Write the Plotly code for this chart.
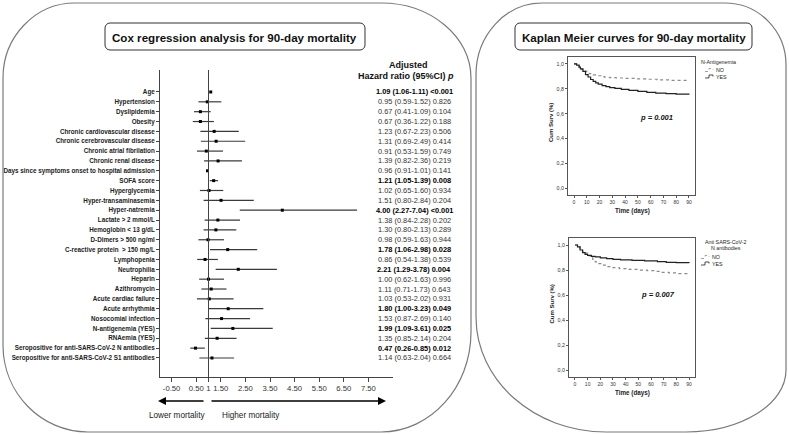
import plotly.graph_objects as go

W, H = 789, 434

# ------------------------------------------------------------------ data
variables = [
    "Age", "Hypertension", "Dyslipidemia", "Obesity",
    "Chronic cardiovascular disease", "Chronic cerebrovascular disease",
    "Chronic atrial fibrilation", "Chronic renal disease",
    "Days since symptoms onset to hospital admission", "SOFA score",
    "Hyperglycemia", "Hyper-transaminasemia", "Hyper-natremia",
    "Lactate > 2 mmol/L", "Hemoglobin < 13 g/dL", "D-Dimers > 500 ng/ml",
    "C-reactive protein  > 150 mg/L", "Lymphopenia", "Neutrophilia",
    "Heparin", "Azithromycin", "Acute cardiac failure", "Acute arrhythmia",
    "Nosocomial infection", "N-antigenemia (YES)", "RNAemia (YES)",
    "Seropositive for anti-SARS-CoV-2 N antibodies",
    "Seropositive for anti-SARS-CoV-2 S1 antibodies",
]
hazard_ratio = [1.09, 0.95, 0.67, 0.67, 1.23, 1.31, 0.91, 1.39, 0.96, 1.21,
                1.02, 1.51, 4.00, 1.38, 1.30, 0.98, 1.78, 0.86, 2.21, 1.00,
                1.11, 1.03, 1.80, 1.53, 1.99, 1.35, 0.47, 1.14]
ci_low = [1.06, 0.59, 0.41, 0.36, 0.67, 0.69, 0.53, 0.82, 0.91, 1.05,
          0.65, 0.80, 2.27, 0.84, 0.80, 0.59, 1.06, 0.54, 1.29, 0.62,
          0.71, 0.53, 1.00, 0.87, 1.09, 0.85, 0.26, 0.63]
ci_high = [1.11, 1.52, 1.09, 1.22, 2.23, 2.49, 1.59, 2.36, 1.01, 1.39,
           1.60, 2.84, 7.04, 2.28, 2.13, 1.63, 2.98, 1.38, 3.78, 1.63,
           1.73, 2.02, 3.23, 2.69, 3.61, 2.14, 0.85, 2.04]
p_values = ["<0.001", "0.826", "0.104", "0.188", "0.506", "0.414", "0.749",
            "0.219", "0.141", "0.008", "0.934", "0.204", "<0.001", "0.202",
            "0.289", "0.944", "0.028", "0.539", "0.004", "0.996", "0.643",
            "0.931", "0.049", "0.140", "0.025", "0.204", "0.012", "0.664"]
significant = [True, False, False, False, False, False, False, False, False,
               True, False, False, True, False, False, False, True, False,
               True, False, False, False, True, False, True, False, True,
               False]
forest_tickvals = [-0.5, 0.5, 1, 1.5, 2.5, 3.5, 4.5, 5.5, 6.5, 7.5]
forest_ticktext = ["-0.50", "0.50", "1", "1.50", "2.50", "3.50", "4.50",
                   "5.50", "6.50", "7.50"]

# Kaplan-Meier: N-antigenemia
km1_no_t = [0, 2, 4, 6, 8, 10, 12, 15, 18, 21, 24, 28, 33, 40, 48, 56, 65, 75, 90]
km1_no_s = [1.0, 0.985, 0.97, 0.955, 0.943, 0.932, 0.922, 0.912, 0.905, 0.898,
            0.893, 0.89, 0.887, 0.884, 0.88, 0.877, 0.872, 0.868, 0.865]
km1_yes_t = [0, 2, 4, 5, 7, 9, 11, 13, 15, 17, 19, 22, 25, 28, 32, 37, 43, 50,
             57, 64, 72, 80, 90]
km1_yes_s = [1.0, 0.99, 0.975, 0.96, 0.94, 0.915, 0.895, 0.875, 0.86, 0.848,
             0.838, 0.826, 0.817, 0.81, 0.803, 0.795, 0.787, 0.78, 0.772,
             0.766, 0.762, 0.758, 0.755]
# Kaplan-Meier: anti SARS-CoV-2 N antibodies
km2_no_t = [0, 2, 4, 6, 8, 10, 12, 14, 16, 18, 21, 25, 29, 35, 42, 50, 57, 63,
            68, 74, 80, 90]
km2_no_s = [1.0, 0.985, 0.965, 0.95, 0.935, 0.915, 0.9, 0.885, 0.865, 0.852,
            0.84, 0.828, 0.82, 0.812, 0.805, 0.8, 0.795, 0.79, 0.782, 0.777,
            0.772, 0.765]
km2_yes_t = [0, 2, 4, 6, 8, 10, 13, 16, 20, 25, 30, 36, 45, 55, 65, 72, 80, 90]
km2_yes_s = [1.0, 0.985, 0.96, 0.94, 0.925, 0.918, 0.91, 0.905, 0.898, 0.892,
             0.886, 0.881, 0.877, 0.874, 0.868, 0.862, 0.859, 0.857]
km_y_tickvals = [0, 0.2, 0.4, 0.6, 0.8, 1.0]
km_y_ticktext = ["0,0", "0,2", "0,4", "0,6", "0,8", "1,0"]
km_x_tickvals = [0, 10, 20, 30, 40, 50, 60, 70, 80, 90]

# ------------------------------------------------------------------ helpers
def px(x):
    return x / W


def py(y):
    return 1 - y / H


def pt(x, y):
    return f"{px(x):.5f},{py(y):.5f}"


K = 0.5523


def rbox(l, t, r, b, tl, tr, br, bl):
    p = f"M {pt(l, t + tl[1])} "
    p += f"C {pt(l, t + tl[1] - K * tl[1])} {pt(l + tl[0] - K * tl[0], t)} {pt(l + tl[0], t)} "
    p += f"L {pt(r - tr[0], t)} "
    p += f"C {pt(r - tr[0] + K * tr[0], t)} {pt(r, t + tr[1] - K * tr[1])} {pt(r, t + tr[1])} "
    p += f"L {pt(r, b - br[1])} "
    p += f"C {pt(r, b - br[1] + K * br[1])} {pt(r - br[0] + K * br[0], b)} {pt(r - br[0], b)} "
    p += f"L {pt(l + bl[0], b)} "
    p += f"C {pt(l + bl[0] - K * bl[0], b)} {pt(l, b - bl[1] + K * bl[1])} {pt(l, b - bl[1])} Z"
    return p


FONT = "Liberation Sans, Arial, sans-serif"
shapes = []
annotations = []


def note(x, y, text, size, color="#222", xanchor="center", yref="paper", yv=None, **kw):
    annotations.append(dict(x=px(x), y=py(y) if yv is None else yv, xref="paper", yref=yref,
                            text=text, showarrow=False, xanchor=xanchor, yanchor="middle",
                            font=dict(family=kw.pop("family", FONT), size=size, color=color),
                            **kw))


# outer rounded panels
shapes.append(dict(type="path", xref="paper", yref="paper",
                   path=rbox(3, 3, 471, 432, (72, 75), (90, 75), (90, 100), (85, 87)),
                   line=dict(color="#7a7a7a", width=1.2)))
shapes.append(dict(type="path", xref="paper", yref="paper",
                   path=rbox(476, 3, 786, 432, (66, 72), (61, 62), (100, 62), (130, 115)),
                   line=dict(color="#7a7a7a", width=1.2)))
# title boxes
for (l, r, txt) in [(105, 365, "Cox regression analysis for 90-day mortality"),
                    (515, 752, "Kaplan Meier curves for 90-day mortality")]:
    shapes.append(dict(type="path", xref="paper", yref="paper",
                       path=rbox(l, 23, r, 50, (5, 5), (5, 5), (5, 5), (5, 5)),
                       line=dict(color="#333", width=1)))
    note((l + r) / 2, 37, f"<b>{txt}</b>", 11.6, color="#111")

fig = go.Figure()

# ------------------------------------------------------------------ forest plot
ci_x, ci_y = [], []
for i in range(len(variables)):
    ci_x += [ci_low[i], ci_high[i], None]
    ci_y += [i, i, None]
fig.add_trace(go.Scatter(x=ci_x, y=ci_y, mode="lines", xaxis="x", yaxis="y",
                         line=dict(color="#3a3a3a", width=1.2), showlegend=False,
                         hoverinfo="skip"))
fig.add_trace(go.Scatter(x=hazard_ratio, y=list(range(len(variables))), mode="markers",
                         xaxis="x", yaxis="y",
                         marker=dict(symbol="square", size=3, color="black"),
                         showlegend=False))
shapes.append(dict(type="line", xref="x", yref="y domain", x0=1, x1=1, y0=0, y1=1,
                   line=dict(color="#444", width=1)))

for i in range(len(variables)):
    txt = f"{hazard_ratio[i]:.2f} ({ci_low[i]:.2f}-{ci_high[i]:.2f}) {p_values[i]}"
    if significant[i]:
        txt = f"<b>{txt}</b>"
    note(414, None, txt, 7.4, color="#000" if significant[i] else "#333",
         yref="y", yv=i)
note(408, 65, "<b>Adjusted</b>", 9, color="#111")
note(406, 76, "<b>Hazard ratio (95%CI) <i>p</i></b>", 9, color="#111")
# arrows + labels
annotations.append(dict(x=px(158), y=py(401), xref="paper", yref="paper", text="",
                        showarrow=True, ax=47, ay=0, arrowhead=2, arrowsize=1,
                        arrowwidth=1.6, arrowcolor="black"))
annotations.append(dict(x=px(386), y=py(401), xref="paper", yref="paper", text="",
                        showarrow=True, ax=-176, ay=0, arrowhead=2, arrowsize=1,
                        arrowwidth=1.6, arrowcolor="black"))
note(177, 415, "Lower mortality", 8.2)
note(251, 415, "Higher mortality", 8.2)

# ------------------------------------------------------------------ KM plots
def km_panel(xa, ya, no_t, no_s, yes_t, yes_s, top, bottom):
    fig.add_trace(go.Scatter(x=no_t, y=no_s, mode="lines", line_shape="hv",
                             xaxis=xa, yaxis=ya, showlegend=False,
                             line=dict(color="#8a8a8a", width=1.2, dash="dot")))
    fig.add_trace(go.Scatter(x=yes_t, y=yes_s, mode="lines", line_shape="hv",
                             xaxis=xa, yaxis=ya, showlegend=False,
                             line=dict(color="#222", width=1.2)))
    note(551, (top + bottom) / 2 - 3, "<b>Cum Surv (%)</b>", 6, textangle=-90)
    note(632, bottom + 16, "<b>Time (days)</b>", 6.3)


km_panel("x2", "y2", km1_no_t, km1_no_s, km1_yes_t, km1_yes_s, 57, 195)
km_panel("x3", "y3", km2_no_t, km2_no_s, km2_yes_t, km2_yes_s, 238, 377)

note(656, 117, "<b><i>p = 0.001</i></b>", 7.5, color="#111")
note(658, 294, "<b><i>p = 0.007</i></b>", 7.5, color="#111")

# KM legends
note(699, 62, "N-Antigenemia", 5.3, xanchor="left")
note(726, 242, "Anti SARS-CoV-2", 5.3)
note(726, 248, "N antibodies", 5.3)
for (x0, y0) in [(705, 70), (701, 257)]:
    for j, (lab, col, dash) in enumerate([("NO", "#8a8a8a", "dot"), ("YES", "#222", "solid")]):
        yy = y0 + j * 6.5
        shapes.append(dict(type="path", xref="paper", yref="paper",
                           path=f"M {pt(x0, yy + 1.5)} L {pt(x0 + 4, yy + 1.5)} L {pt(x0 + 4, yy - 1.5)} L {pt(x0 + 8, yy - 1.5)} L {pt(x0 + 8, yy)}",
                           line=dict(color=col, width=0.8, dash=dash)))
        note(x0 + 9, yy, lab, 5.3, xanchor="left")

# ------------------------------------------------------------------ layout
axis_common = dict(showgrid=False, zeroline=False, automargin=False, fixedrange=True)
km_x = dict(axis_common, range=[-4.7, 94.7], tickvals=km_x_tickvals, showline=True,
            mirror=True, linecolor="#555", linewidth=1, ticks="outside", ticklen=2,
            tickcolor="#555", tickfont=dict(family=FONT, size=5, color="#333"))
km_y = dict(axis_common, range=[-0.054, 1.056], tickvals=km_y_tickvals,
            ticktext=km_y_ticktext, showline=True, mirror=True, linecolor="#555",
            linewidth=1, ticks="outside", ticklen=2, tickcolor="#555",
            tickfont=dict(family=FONT, size=5.3, color="#333"))

fig.update_layout(
    template="none",
    width=W, height=H, margin=dict(l=0, r=0, t=0, b=0, pad=0), autosize=False,
    paper_bgcolor="white", plot_bgcolor="rgba(0,0,0,0)",
    showlegend=False, hovermode=False,
    xaxis=dict(axis_common, domain=[px(160), px(393)], range=[-0.972, 8.5], anchor="y",
               showline=True, linecolor="#444", linewidth=1, ticks="outside",
               ticklen=4, tickcolor="#444", tickvals=forest_tickvals,
               ticktext=forest_ticktext,
               tickfont=dict(family=FONT, size=7.7, color="#333")),
    yaxis=dict(axis_common, domain=[py(377), py(70)], range=[28.93, -2.23], anchor="x",
               showline=True, linecolor="#444", linewidth=1, ticks="outside",
               ticklen=3, tickcolor="#444", tickvals=list(range(len(variables))),
               ticktext=[f"<b>{v}</b>" for v in variables],
               tickfont=dict(family=FONT, size=6.3, color="#222")),
    xaxis2=dict(km_x, domain=[px(568), px(695)], anchor="y2"),
    yaxis2=dict(km_y, domain=[py(195), py(57)], anchor="x2"),
    xaxis3=dict(km_x, domain=[px(569), px(695)], anchor="y3"),
    yaxis3=dict(km_y, domain=[py(377), py(238)], anchor="x3"),
    shapes=shapes, annotations=annotations,
)

fig.write_html("out.html", config={"displayModeBar": False},
               post_script="document.body.style.margin='0';document.body.style.overflow='hidden';")
